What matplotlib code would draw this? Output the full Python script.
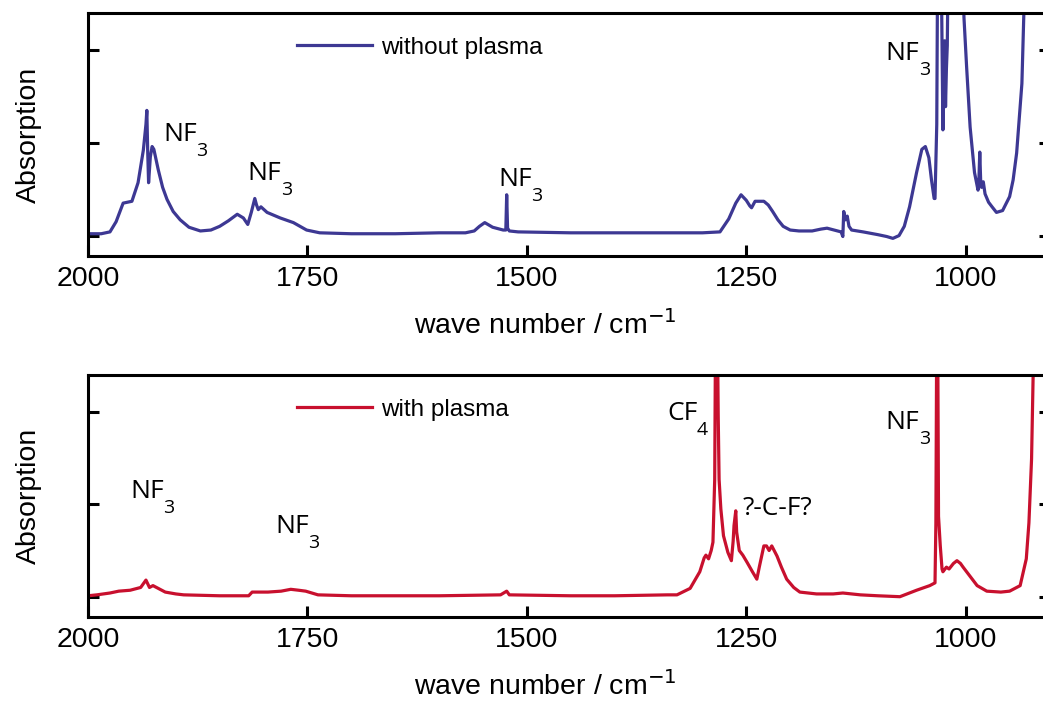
import matplotlib

matplotlib.use("Agg")

import matplotlib.pyplot as plt

# spectrum without plasma (wave number in cm-1, absorption in tick units)
wn_without = [
    2000, 1985, 1975, 1968, 1960, 1950, 1943, 1937, 1934, 1933, 1932, 1931,
    1929, 1927, 1925, 1920, 1915, 1910, 1903, 1895, 1885, 1872, 1860, 1850,
    1840, 1830, 1823, 1818, 1814, 1810, 1808, 1806, 1803, 1796, 1781, 1766,
    1751, 1736, 1700, 1650, 1600, 1570, 1560, 1554, 1548, 1539, 1527, 1524,
    1523, 1522, 1520, 1510, 1450, 1400, 1350, 1300, 1280, 1270, 1262, 1256,
    1250, 1246, 1244, 1240, 1230, 1225, 1220, 1214, 1208, 1200, 1190, 1175,
    1165, 1158, 1150, 1142, 1140, 1139, 1137, 1135, 1133, 1130, 1117, 1100,
    1090, 1083, 1076, 1070, 1064, 1056, 1050, 1046, 1042, 1039, 1036, 1035,
    1033, 1032, 1028, 1026, 1025, 1024, 1023, 1022, 1021, 1020, 1004, 1002,
    999, 995, 990, 986, 985, 984, 983, 982, 980, 978, 974, 970,
    965, 958, 950, 946, 942, 936, 932, 905,
]
abs_without = [
    0.02, 0.02, 0.04, 0.15, 0.35, 0.37, 0.57, 0.92, 1.20, 1.35, 0.90, 0.57,
    0.85, 0.96, 0.93, 0.71, 0.52, 0.39, 0.26, 0.17, 0.09, 0.05, 0.06, 0.10,
    0.16, 0.23, 0.19, 0.12, 0.25, 0.40, 0.33, 0.28, 0.31, 0.25, 0.19, 0.14,
    0.06, 0.03, 0.02, 0.02, 0.03, 0.03, 0.05, 0.10, 0.14, 0.09, 0.06, 0.06,
    0.44, 0.08, 0.05, 0.04, 0.03, 0.03, 0.03, 0.03, 0.04, 0.18, 0.35, 0.44,
    0.38, 0.32, 0.30, 0.37, 0.37, 0.33, 0.26, 0.17, 0.10, 0.06, 0.05, 0.05,
    0.07, 0.08, 0.06, 0.04, -0.01, 0.26, 0.17, 0.21, 0.10, 0.06, 0.04, 0.01,
    -0.01, -0.03, 0.00, 0.10, 0.31, 0.68, 0.93, 0.96, 0.84, 0.60, 0.40, 0.40,
    1.20, 3.00, 3.00, 1.14, 1.90, 2.10, 1.39, 1.80, 2.05, 3.00, 3.00, 2.35,
    1.82, 1.17, 0.68, 0.49, 0.60, 0.90, 0.60, 0.52, 0.58, 0.45, 0.36, 0.31,
    0.25, 0.27, 0.42, 0.60, 0.89, 1.64, 3.00, 3.00,
]

# spectrum with plasma
wn_with = [
    2000, 1990, 1975, 1965, 1952, 1940, 1934, 1930, 1926, 1920, 1912, 1900,
    1891, 1850, 1817, 1813, 1795, 1780, 1769, 1760, 1752, 1738, 1700, 1600,
    1530, 1523, 1520, 1450, 1400, 1340, 1329, 1314, 1303, 1298, 1296, 1293,
    1290, 1288, 1286, 1285, 1283, 1282, 1281, 1279, 1276, 1271, 1267, 1265,
    1264, 1262, 1261, 1258, 1254, 1249, 1243, 1238, 1235, 1230, 1227, 1224,
    1221, 1215, 1210, 1204, 1196, 1189, 1170, 1151, 1140, 1120, 1100, 1075,
    1056, 1041, 1035, 1034, 1033, 1032, 1031, 1029, 1027, 1026, 1022, 1019,
    1014, 1010, 1006, 1003, 995, 987, 976, 960, 950, 938, 931, 928,
    925, 922, 905,
]
abs_with = [
    0.01, 0.02, 0.04, 0.06, 0.07, 0.10, 0.18, 0.10, 0.12, 0.09, 0.05, 0.03,
    0.02, 0.01, 0.01, 0.05, 0.05, 0.06, 0.08, 0.07, 0.06, 0.02, 0.01, 0.01,
    0.02, 0.06, 0.02, 0.01, 0.01, 0.02, 0.02, 0.09, 0.27, 0.42, 0.45, 0.41,
    0.50, 0.59, 1.27, 3.00, 3.00, 1.95, 1.27, 0.95, 0.66, 0.48, 0.39, 0.60,
    0.77, 0.93, 0.70, 0.50, 0.45, 0.37, 0.27, 0.19, 0.33, 0.55, 0.55, 0.50,
    0.55, 0.44, 0.32, 0.19, 0.10, 0.05, 0.03, 0.03, 0.04, 0.02, 0.01, 0.00,
    0.07, 0.12, 0.15, 0.80, 3.00, 3.00, 0.87, 0.55, 0.30, 0.27, 0.32, 0.30,
    0.36, 0.39, 0.36, 0.32, 0.22, 0.12, 0.06, 0.05, 0.06, 0.12, 0.41, 0.80,
    1.49, 3.00, 3.00,
]

x_ticks = [2000, 1750, 1500, 1250, 1000]
y_ticks = [0, 1, 2]

# peak labels: (main text, subscript, wave number, absorption at baseline)
labels_without = [
    ("NF", "3", 1914, 1.02),
    ("NF", "3", 1818, 0.60),
    ("NF", "3", 1533, 0.54),
    ("NF", "3", 1091, 1.89),
]
labels_with = [
    ("NF", "3", 1952, 1.07),
    ("NF", "3", 1787, 0.69),
    ("CF", "4", 1340, 1.91),
    ("?-C-F?", "", 1254, 0.88),
    ("NF", "3", 1091, 1.82),
]

NOTE_FONT = ["Open Sans", "DejaVu Sans"]

plt.rcParams["font.family"] = ["Liberation Sans", "DejaVu Sans"]


def draw_panel(ax, wn, absorb, color, name, notes):
    ax.plot(wn, absorb, color=color, linewidth=2.3, label=name)
    ax.set_xlim(2000, 904)
    ax.set_ylim(-0.22, 2.4)
    ax.set_xticks(x_ticks, labels=[str(t) for t in x_ticks])
    ax.set_yticks(y_ticks, labels=[])
    ax.tick_params(axis="both", direction="in", length=8, width=2.2,
                   labelsize=20.5, pad=7, right=True)
    for spine in ax.spines.values():
        spine.set_linewidth(2.2)
    ax.set_ylabel("Absorption", fontsize=20.5)
    ax.yaxis.set_label_coords(-0.048, 0.5)
    ax.set_xlabel("wave number / cm$^{-1}$", fontsize=20.5, va="center")
    ax.xaxis.set_label_coords(0.475, -0.285)
    ax.legend(loc="center left", bbox_to_anchor=(0.217, 0.856), frameon=False,
              fontsize=17.5, handlelength=3.1, handletextpad=0.35,
              borderpad=0, borderaxespad=0)
    for main, sub, x, y in notes:
        t = ax.text(x, y, main, fontsize=19, family=NOTE_FONT,
                    ha="left", va="baseline")
        if sub:
            ax.annotate(sub, xy=(1.0, 0.0), xycoords=t, xytext=(-0.5, -3),
                        textcoords="offset points", fontsize=14,
                        family=NOTE_FONT, ha="left", va="center")


fig = plt.figure(figsize=(10.43, 7.01), dpi=100)
ax_top = fig.add_axes([0.0844, 0.6348, 0.9223, 0.3467])
ax_bot = fig.add_axes([0.0844, 0.1198, 0.9223, 0.3452])

draw_panel(ax_top, wn_without, abs_without, "#3d3893", "without plasma", labels_without)
draw_panel(ax_bot, wn_with, abs_with, "#c8102e", "with plasma", labels_with)

fig.savefig("out.png", dpi=100)
